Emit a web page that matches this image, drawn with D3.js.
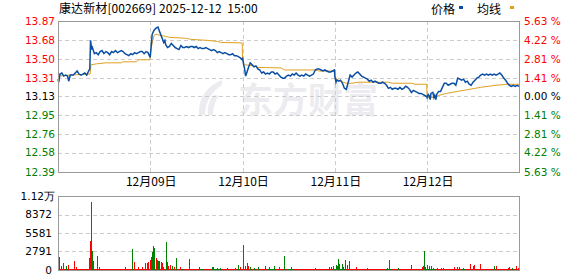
<!DOCTYPE html>
<html>
<head>
<meta charset="utf-8">
<script src="https://cdn.jsdelivr.net/npm/d3@7"></script>
<style>
  body { margin: 0; background: #fff; }
  svg { display: block; }
  text { font-family: "DejaVu Sans", Verdana, sans-serif; font-size: 10.5px; }
  .cjk { font-family: "Noto Sans CJK SC", sans-serif; font-size: 12px; }
</style>
</head>
<body>
<script>
const title = "康达新材[002669] 2025-12-12  15:00";
const dayLabels = ["12月09日", "12月10日", "12月11日", "12月12日"];
const preClose = 13.13;
const priceTicks = [13.87, 13.68, 13.50, 13.31, 13.13, 12.95, 12.76, 12.58, 12.39];
const pctTicks = ["5.63", "4.22", "2.81", "1.41", "0.00", "1.41", "2.81", "4.22", "5.63"];
const volTicks = [11163, 8372, 5581, 2791, 0];
const volTickLabels = ["1.12万", "8372", "5581", "2791", "0"];
const minutesPerDay = 241;
const dayCount = 5;

// [minute of day, price]
const price1 = [[0,13.30],[2,13.27],[5,13.35],[10,13.36],[15,13.33],[20,13.34],[25,13.33],[28,13.28],[32,13.34],[40,13.34],[45,13.36],[50,13.38],[55,13.35],[60,13.34],[65,13.35],[70,13.36],[75,13.34],[80,13.38],[83,13.40],[85,13.68],[88,13.59],[90,13.61],[95,13.55],[100,13.56],[105,13.54],[110,13.57],[115,13.58],[120,13.55],[125,13.57],[130,13.56],[135,13.54],[140,13.57],[145,13.56],[150,13.58],[155,13.56],[160,13.57],[165,13.58],[170,13.57],[175,13.55],[180,13.54],[185,13.53],[190,13.55],[195,13.54],[200,13.56],[205,13.55],[210,13.56],[215,13.57],[220,13.57],[225,13.55],[230,13.57],[235,13.56],[240,13.52]];
const price2 = [[0,13.52],[5,13.74],[10,13.78],[15,13.80],[20,13.81],[25,13.76],[30,13.71],[35,13.66],[38,13.68],[40,13.64],[45,13.61],[50,13.62],[55,13.65],[60,13.63],[65,13.61],[70,13.60],[75,13.59],[80,13.63],[85,13.61],[90,13.61],[95,13.62],[100,13.61],[105,13.62],[110,13.62],[115,13.61],[120,13.62],[125,13.60],[130,13.61],[135,13.60],[140,13.60],[145,13.61],[150,13.60],[155,13.59],[160,13.58],[165,13.59],[170,13.58],[175,13.56],[180,13.57],[185,13.56],[190,13.55],[195,13.56],[200,13.55],[205,13.54],[210,13.54],[215,13.55],[220,13.53],[225,13.53],[230,13.52],[235,13.51],[240,13.49]];
const price3 = [[0,13.51],[3,13.44],[5,13.41],[8,13.33],[10,13.35],[15,13.41],[20,13.46],[25,13.44],[30,13.42],[35,13.43],[40,13.40],[45,13.39],[50,13.36],[55,13.37],[60,13.35],[65,13.36],[70,13.35],[75,13.37],[80,13.37],[85,13.35],[90,13.36],[95,13.34],[100,13.32],[105,13.31],[110,13.31],[115,13.33],[120,13.34],[125,13.33],[130,13.35],[135,13.34],[140,13.36],[145,13.34],[150,13.33],[155,13.34],[160,13.33],[165,13.35],[170,13.34],[175,13.33],[180,13.34],[185,13.35],[190,13.39],[195,13.40],[200,13.40],[205,13.39],[210,13.38],[215,13.39],[220,13.38],[225,13.37],[230,13.37],[235,13.38],[240,13.39]];
const price4 = [[0,13.33],[3,13.27],[5,13.29],[10,13.28],[15,13.29],[20,13.26],[25,13.21],[30,13.20],[35,13.27],[40,13.34],[45,13.32],[50,13.34],[55,13.36],[60,13.37],[65,13.35],[70,13.33],[75,13.32],[80,13.31],[85,13.30],[90,13.28],[95,13.29],[100,13.27],[105,13.28],[110,13.27],[115,13.26],[120,13.26],[125,13.27],[130,13.26],[135,13.24],[140,13.21],[145,13.22],[150,13.20],[155,13.21],[160,13.21],[165,13.20],[170,13.22],[175,13.20],[180,13.21],[185,13.23],[190,13.22],[195,13.20],[200,13.17],[205,13.19],[210,13.18],[215,13.17],[220,13.16],[225,13.16],[230,13.15],[235,13.14],[240,13.13]];
const price5 = [[0,13.12],[3,13.15],[5,13.14],[8,13.10],[10,13.16],[15,13.17],[18,13.12],[20,13.14],[23,13.10],[25,13.15],[30,13.18],[35,13.18],[40,13.22],[45,13.26],[50,13.26],[55,13.24],[60,13.25],[65,13.26],[70,13.26],[75,13.24],[80,13.31],[85,13.30],[90,13.29],[95,13.30],[100,13.27],[105,13.28],[110,13.25],[115,13.24],[120,13.27],[125,13.29],[130,13.31],[135,13.32],[140,13.34],[145,13.35],[150,13.34],[155,13.35],[160,13.34],[165,13.35],[170,13.34],[175,13.35],[180,13.34],[185,13.35],[190,13.36],[195,13.34],[200,13.31],[205,13.29],[210,13.26],[215,13.24],[220,13.23],[225,13.24],[230,13.23],[235,13.24],[240,13.23]];

// [minute of day, average price]
const avg1 = [[0,13.33],[30,13.34],[60,13.345],[84,13.35],[86,13.44],[100,13.45],[125,13.46],[165,13.46],[170,13.47],[205,13.47],[210,13.49],[240,13.49]];
const avg2 = [[0,13.55],[3,13.62],[10,13.73],[15,13.74],[25,13.73],[40,13.72],[50,13.71],[95,13.70],[105,13.69],[150,13.68],[175,13.67],[185,13.66],[240,13.655]];
const avg3 = [[0,13.50],[3,13.45],[8,13.44],[30,13.43],[40,13.415],[100,13.41],[110,13.39],[190,13.39],[200,13.38],[240,13.38]];
const avg4 = [[0,13.33],[5,13.30],[15,13.28],[30,13.26],[45,13.26],[60,13.27],[140,13.27],[150,13.26],[200,13.26],[210,13.25],[240,13.25]];
const avg5 = [[0,13.12],[20,13.12],[30,13.14],[50,13.16],[80,13.18],[110,13.20],[140,13.22],[180,13.24],[210,13.25],[240,13.25]];

// [minute index over all days, volume, 1 = up / 0 = down]
const volumeBars = [
  [3,2000,1],[7,600,0],[13,1000,1],[21,600,0],[26,750,1],[42,1400,1],[47,400,1],
  [82,1860,1],[84,4380,1],[86,10220,1],[90,2870,0],[92,1360,1],[101,2100,0],[106,400,1],
  [176,400,0],[194,3170,0],[199,1250,1],[210,400,1],[219,400,1],[227,1000,1],[233,1100,1],
  [236,1250,1],[239,1500,1],[242,2010,0],[245,2770,0],[249,3620,1],[252,3320,0],[255,1760,1],
  [258,1510,1],[262,1360,0],[265,1360,0],[268,1250,0],[272,1000,1],[275,500,0],[281,4280,0],
  [284,1250,1],[288,600,1],[293,750,1],[297,600,0],[303,400,1],[308,1810,0],[319,400,1],
  [343,1660,1],[367,400,0],[402,400,0],[406,400,0],[415,300,0],[423,300,0],[441,250,1],
  [463,350,1],[471,750,0],[476,500,1],[484,3770,1],[489,650,0],[493,1110,1],[497,600,1],
  [502,400,0],[511,300,0],[523,400,0],[541,600,1],[550,400,0],[563,600,0],[576,400,1],
  [589,2110,0],[608,400,0],[671,250,1],[708,400,1],[714,400,1],[719,600,1],[725,750,0],
  [729,600,1],[732,1660,0],[735,900,1],[743,900,0],[745,500,0],[749,1510,0],[755,750,1],
  [761,1400,1],[778,400,1],[806,250,1],[858,250,0],[864,1510,0],[889,250,0],[921,750,0],
  [950,400,1],[952,600,1],[955,2920,0],[958,400,1],[965,750,1],[969,600,1],[974,600,0],
  [980,350,0],[989,250,1],[1000,300,1],[1005,300,1],[1035,400,1],[1041,400,1],[1046,400,1],
  [1059,250,0],[1076,900,1],[1083,600,1],[1087,750,1],[1101,900,1],[1140,600,0],[1145,600,1],
  [1174,300,1],[1179,400,1],[1185,300,0],[1196,600,1],[1201,250,1]
];
// quiet stretches along the bottom: [from, to, volume, up]
const quietRuns = [
  [0,317,180,1],[318,326,180,0],[327,371,180,1],[372,381,180,0],[382,402,180,1],[403,426,180,0],
  [427,544,180,1],[545,561,180,0],[562,599,180,1],[600,613,180,0],[614,719,180,1],[720,751,180,0],
  [752,854,180,1],[855,871,180,0],[872,949,180,1],[950,986,180,0],[987,1054,180,1],[1055,1063,180,0],
  [1064,1137,180,1],[1138,1146,180,0],[1147,1205,180,1]
];

const width = 578, height = 276;
const left = 58, right = 519;
const top1 = 21, bottom1 = 172;
const top2 = 196, bottom2 = 270;
const red = "#ff0000", green = "#008000";

const svg = d3.select("body").append("svg")
  .attr("width", width)
  .attr("height", height);

const x = d3.scaleLinear().domain([0, minutesPerDay * dayCount - 1]).range([left, right]);
const y = d3.scaleLinear().domain([priceTicks[8], priceTicks[0]]).range([bottom1, top1]);
const yv = d3.scaleLinear().domain([0, volTicks[0]]).range([bottom2, top2]);

// watermark
const wm = svg.append("g").attr("fill", "#ececf0");
wm.append("path")
  .attr("d", "M222,80 C207,86 198,98 199,115 L205,115 C205,102 212,91 222,85 Z M214,95 C209,100 207,107 208,115 L213,115 C213,108 215,101 219,96 Z");
wm.append("text")
  .attr("class", "cjk")
  .attr("x", 238)
  .attr("y", 113)
  .style("font-size", "35px")
  .style("font-weight", "bold")
  .text("东方财富");

// title and legend
svg.append("text")
  .attr("class", "cjk")
  .attr("x", 59)
  .attr("y", 13)
  .attr("fill", "#000")
  .style("white-space", "pre")
  .style("letter-spacing", "0.1px")
  .text(title);

const legend = svg.append("g").attr("class", "legend");
legend.append("text").attr("class", "cjk").attr("x", 431).attr("y", 14).text("价格");
legend.append("rect").attr("x", 459).attr("y", 6).attr("width", 4).attr("height", 3).attr("fill", "#0a4ea3");
legend.append("text").attr("class", "cjk").attr("x", 477).attr("y", 14).text("均线");
legend.append("rect").attr("x", 510).attr("y", 6).attr("width", 4).attr("height", 3).attr("fill", "#e0a020");

// grid
const grid = svg.append("g")
  .attr("stroke", "#cccccc")
  .attr("stroke-dasharray", "4,3")
  .attr("shape-rendering", "crispEdges");

grid.selectAll("line.h")
  .data(priceTicks.slice(1, -1))
  .enter().append("line")
  .attr("x1", left).attr("x2", right)
  .attr("y1", (d) => Math.round(y(d)) + 0.5)
  .attr("y2", (d) => Math.round(y(d)) + 0.5);

grid.selectAll("line.v")
  .data(dayLabels)
  .enter().append("line")
  .attr("x1", (d, i) => Math.round(x((i + 1) * minutesPerDay)) + 0.5)
  .attr("x2", (d, i) => Math.round(x((i + 1) * minutesPerDay)) + 0.5)
  .attr("y1", top1).attr("y2", bottom1);

grid.selectAll("line.vh")
  .data(volTicks.slice(1, -1))
  .enter().append("line")
  .attr("x1", left).attr("x2", right)
  .attr("y1", (d) => Math.round(yv(d)) + 0.5)
  .attr("y2", (d) => Math.round(yv(d)) + 0.5);

// lines
const allPrice = [price1, price2, price3, price4, price5]
  .flatMap((day, i) => day.map((p) => [i * minutesPerDay + p[0], p[1]]));
const allAvg = [avg1, avg2, avg3, avg4, avg5]
  .flatMap((day, i) => day.map((p) => [i * minutesPerDay + p[0], p[1]]));

const line = d3.line()
  .x((d) => x(d[0]))
  .y((d) => y(d[1]));

svg.append("path")
  .datum(allAvg)
  .attr("fill", "none")
  .attr("stroke", "#e0a020")
  .attr("stroke-width", 1)
  .attr("d", line);

svg.append("path")
  .datum(allPrice)
  .attr("fill", "none")
  .attr("stroke", "#0a4ea3")
  .attr("stroke-width", 1.5)
  .attr("d", line);

// volume
const vol = svg.append("g").attr("shape-rendering", "crispEdges");
vol.selectAll("rect.q")
  .data(quietRuns)
  .enter().append("rect")
  .attr("x", (d) => x(d[0]))
  .attr("width", (d) => x(d[1] + 1) - x(d[0]))
  .attr("y", (d) => yv(d[2]))
  .attr("height", (d) => yv(0) - yv(d[2]))
  .attr("fill", (d) => (d[3] ? red : green));

vol.selectAll("rect.b")
  .data(volumeBars)
  .enter().append("rect")
  .attr("x", (d) => Math.round(x(d[0])))
  .attr("width", 1)
  .attr("y", (d) => yv(d[1]))
  .attr("height", (d) => yv(0) - yv(d[1]))
  .attr("fill", (d) => (d[2] ? red : green));

// frames
svg.append("rect")
  .attr("x", left + 0.5).attr("y", top1 + 0.5)
  .attr("width", right - left).attr("height", bottom1 - top1)
  .attr("fill", "none").attr("stroke", "#999").attr("shape-rendering", "crispEdges");
svg.append("rect")
  .attr("x", left + 0.5).attr("y", top2 + 0.5)
  .attr("width", right - left).attr("height", bottom2 - top2)
  .attr("fill", "none").attr("stroke", "#999").attr("shape-rendering", "crispEdges");

// axis labels
const tickColor = (i) => (i < 4 ? red : i > 4 ? green : "#000");

svg.append("g").selectAll("text")
  .data(priceTicks)
  .enter().append("text")
  .attr("x", 55)
  .attr("y", (d) => y(d))
  .attr("dy", "0.36em")
  .attr("text-anchor", "end")
  .attr("fill", (d, i) => tickColor(i))
  .text((d) => d.toFixed(2));

svg.append("g").selectAll("text")
  .data(pctTicks)
  .enter().append("text")
  .attr("x", 524)
  .attr("y", (d, i) => y(priceTicks[i]))
  .attr("dy", "0.36em")
  .attr("fill", (d, i) => tickColor(i))
  .style("white-space", "pre")
  .text((d) => d + " %");

svg.append("g").selectAll("text")
  .data(volTicks)
  .enter().append("text")
  .attr("x", (d, i) => (i === 0 ? 55 : 52))
  .attr("y", (d) => yv(d))
  .attr("dy", "0.36em")
  .attr("text-anchor", "end")
  .attr("fill", "#000")
  .text((d, i) => volTickLabels[i]);

svg.append("g").selectAll("text")
  .data(dayLabels)
  .enter().append("text")
  .attr("class", "cjk")
  .attr("x", (d, i) => x((i + 1) * minutesPerDay) + 1)
  .attr("y", 186)
  .attr("text-anchor", "middle")
  .attr("fill", "#000")
  .text((d) => d);
</script>
</body>
</html>
